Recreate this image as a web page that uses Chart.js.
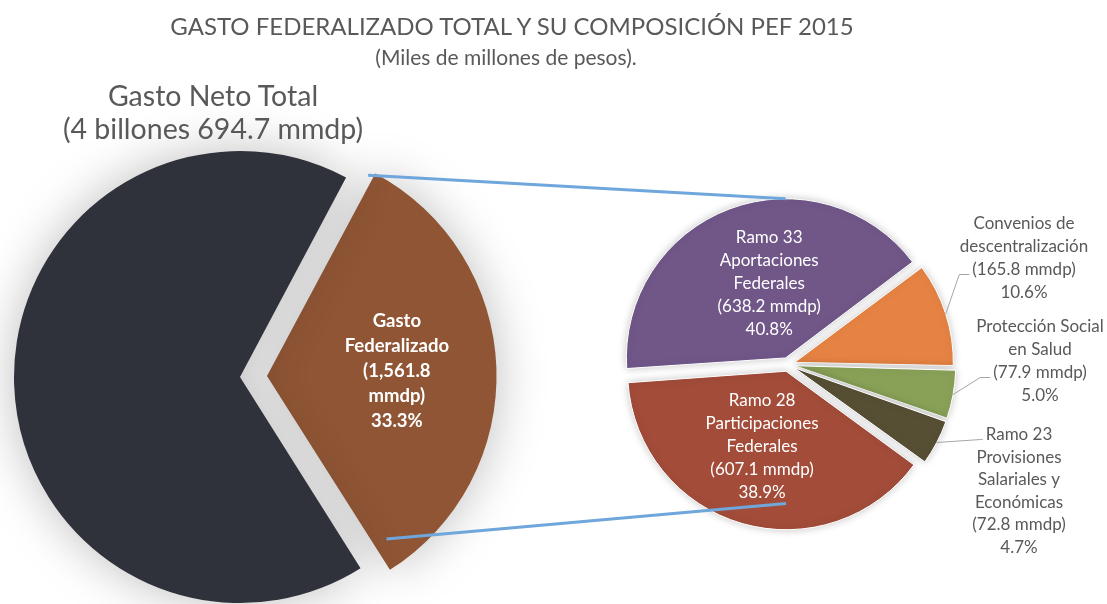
<!DOCTYPE html>
<html lang="es">
<head>
  <meta charset="UTF-8">
  <title>Gasto Federalizado PEF 2015</title>
  <script src="https://cdn.jsdelivr.net/npm/chart.js@4.4.1/dist/chart.umd.min.js"></script>
  <style>
    body { margin: 0; background: #fff; font-family: Lato, sans-serif; }
    #wrap { position: relative; width: 1107px; height: 604px; overflow: hidden; background: #fff; }
    #wrap canvas { position: absolute; left: 0; top: 0; }
    .txt { position: absolute; color: #595959; text-align: center; white-space: nowrap; }
    #title { left: 0; width: 1024px; top: 14px; font-size: 24px; line-height: 24px; }
    #subtitle { left: 0; width: 1012px; top: 46px; font-size: 21px; line-height: 21px; }
    #total { left: 0; width: 426px; top: 79px; font-size: 28.5px; line-height: 33px; }
  </style>
</head>
<body>
  <div id="wrap">
    <canvas id="totalChart" width="1107" height="604"></canvas>
    <canvas id="fedChart" width="1107" height="604"></canvas>
    <div class="txt" id="title">GASTO FEDERALIZADO TOTAL Y SU COMPOSICIÓN PEF 2015</div>
    <div class="txt" id="subtitle">(Miles de millones de pesos).</div>
    <div class="txt" id="total">Gasto Neto Total<br>(4 billones 694.7 mmdp)</div>
  </div>

  <script>
    // left pie: Gasto Neto Total split
    const totalLabels = ['Gasto Federalizado', 'Resto del Gasto Neto Total'];
    const totalValues = [1561.8, 3132.9];
    const totalPercent = ['33.3%', '66.7%'];

    // right pie: composition of Gasto Federalizado
    const fedLabels = [
      'Ramo 33 Aportaciones Federales',
      'Convenios de descentralización',
      'Protección Social en Salud',
      'Ramo 23 Provisiones Salariales y Económicas',
      'Ramo 28 Participaciones Federales'
    ];
    const fedValues = [638.2, 165.8, 77.9, 72.8, 607.1];
    const fedPercent = ['40.8%', '10.6%', '5.0%', '4.7%', '38.9%'];
    const fedNameLines = [
      ['Ramo 33', 'Aportaciones', 'Federales'],
      ['Convenios de', 'descentralización'],
      ['Protección Social', 'en Salud'],
      ['Ramo 23', 'Provisiones', 'Salariales y', 'Económicas'],
      ['Ramo 28', 'Participaciones', 'Federales']
    ];

    const fmt = v => v.toLocaleString('en-US', { minimumFractionDigits: 1, maximumFractionDigits: 1 });

    // Chart.js v4 moves an exploded arc by offset / 4 and grows its radius a bit
    function arcGeom(arc) {
      const t = (arc.options.offset || 0) / 4;
      const circ = arc.endAngle - arc.startAngle;
      const mid = (arc.startAngle + arc.endAngle) / 2;
      const r = arc.outerRadius + t * (1 - Math.sin(Math.min(Math.PI, circ)));
      return { cx: arc.x + Math.cos(mid) * t, cy: arc.y + Math.sin(mid) * t, r: r, mid: mid };
    }
    function arcPoint(arc, angle, frac) {
      const g = arcGeom(arc);
      return { x: g.cx + Math.cos(angle) * g.r * frac, y: g.cy + Math.sin(angle) * g.r * frac };
    }

    function shadow(color, blur) {
      return {
        id: 'shadow',
        beforeDatasetsDraw(chart) {
          const c = chart.ctx;
          c.save();
          c.shadowColor = color;
          c.shadowBlur = blur;
        },
        afterDatasetsDraw(chart) { chart.ctx.restore(); }
      };
    }

    function insideLabels(items) {
      return {
        id: 'insideLabels',
        afterDatasetsDraw(chart) {
          const ctx = chart.ctx;
          const arcs = chart.getDatasetMeta(0).data;
          ctx.save();
          ctx.textAlign = 'center';
          ctx.textBaseline = 'middle';
          items.forEach(it => {
            const arc = arcs[it.index];
            const g = arcGeom(arc);
            const p = arcPoint(arc, g.mid + it.turn * Math.PI / 180, it.frac);
            ctx.font = it.font;
            ctx.fillStyle = it.color;
            const top = p.y - (it.lines.length - 1) * it.lh / 2;
            it.lines.forEach((s, k) => ctx.fillText(s, p.x, top + k * it.lh));
          });
          ctx.restore();
        }
      };
    }

    function outsideLabels(items) {
      return {
        id: 'outsideLabels',
        afterDatasetsDraw(chart) {
          const ctx = chart.ctx;
          const arcs = chart.getDatasetMeta(0).data;
          ctx.save();
          ctx.textAlign = 'center';
          ctx.textBaseline = 'middle';
          ctx.font = '17px Lato';
          items.forEach(it => {
            const arc = arcs[it.index];
            const top = it.y - (it.lines.length - 1) * it.lh / 2;
            const lead = it.lines[it.lead];
            const left = it.x - ctx.measureText(lead).width / 2;
            const ly = top + it.lead * it.lh + 5;
            const start = arcPoint(arc, arcGeom(arc).mid, 1);
            ctx.strokeStyle = '#a6a6a6';
            ctx.lineWidth = 1;
            ctx.beginPath();
            ctx.moveTo(start.x, start.y);
            ctx.lineTo(left - it.elbow, ly);
            ctx.lineTo(left - 3, ly);
            ctx.stroke();
            ctx.fillStyle = '#595959';
            it.lines.forEach((s, k) => ctx.fillText(s, it.x, top + k * it.lh));
          });
          ctx.restore();
        }
      };
    }

    const totalChart = new Chart(document.getElementById('totalChart'), {
      type: 'pie',
      data: {
        labels: totalLabels,
        datasets: [{
          data: totalValues,
          backgroundColor: ['#8f5535', '#30323b'],
          borderWidth: 0,
          offset: [108, 0],
          radius: 226
        }]
      },
      options: {
        responsive: false,
        animation: false,
        events: [],
        rotation: 28,
        layout: { padding: { left: 0, right: 627, top: 177, bottom: 27 } },
        plugins: { legend: { display: false }, tooltip: { enabled: false } }
      },
      plugins: [
        shadow('rgba(0,0,0,0.26)', 50),
        insideLabels([{
          index: 0, turn: 0, frac: 0.566, lh: 25, font: 'bold 18.5px Lato', color: '#ffffff',
          lines: ['Gasto', 'Federalizado', '(' + fmt(totalValues[0]), 'mmdp)', totalPercent[0]]
        }])
      ]
    });

    // blue series lines joining the exploded slice to the second pie
    const seriesLines = {
      id: 'seriesLines',
      afterDraw(chart) {
        const ctx = chart.ctx;
        const src = totalChart.getDatasetMeta(0).data[0];
        const arcs = chart.getDatasetMeta(0).data;
        const a = arcPoint(src, src.startAngle - 0.01, 0.985);
        const b = arcPoint(arcs[0], -Math.PI / 2, 1.0);
        const c = arcPoint(src, src.startAngle + 2.02, 0.88);
        const d = arcPoint(arcs[4], Math.PI / 2, 0.835);
        ctx.save();
        ctx.strokeStyle = '#6fa6dc';
        ctx.lineWidth = 3;
        ctx.beginPath();
        ctx.moveTo(a.x - 3, a.y);
        ctx.lineTo(b.x, b.y);
        ctx.moveTo(c.x, c.y);
        ctx.lineTo(d.x, d.y);
        ctx.stroke();
        ctx.restore();
      }
    };

    const fedChart = new Chart(document.getElementById('fedChart'), {
      type: 'pie',
      data: {
        labels: fedLabels,
        datasets: [{
          data: fedValues,
          backgroundColor: ['#705788', '#e68344', '#89a157', '#574f34', '#a24c39'],
          borderColor: '#ffffff',
          borderWidth: 1,
          offset: 28,
          radius: 156
        }]
      },
      options: {
        responsive: false,
        animation: false,
        events: [],
        rotation: 266,
        layout: { padding: { left: 588, right: 119, top: 164, bottom: 39 } },
        plugins: { legend: { display: false }, tooltip: { enabled: false } }
      },
      plugins: [
        shadow('rgba(0,0,0,0.22)', 8),
        insideLabels([0, 4].map(i => ({
          index: i, turn: i === 0 ? 8 : 1.6, frac: i === 0 ? 0.477 : 0.5, lh: 23,
          font: '17px Lato', color: '#ffffff',
          lines: fedNameLines[i].concat(['(' + fmt(fedValues[i]) + ' mmdp)', fedPercent[i]])
        }))),
        outsideLabels([
          { index: 1, x: 1024, y: 258, lh: 23, lead: 2, elbow: 13 },
          { index: 2, x: 1040, y: 361, lh: 23, lead: 2, elbow: 13 },
          { index: 3, x: 1019, y: 491, lh: 22.6, lead: 0, elbow: 5 }
        ].map(o => Object.assign(o, {
          lines: fedNameLines[o.index].concat(['(' + fmt(fedValues[o.index]) + ' mmdp)', fedPercent[o.index]])
        }))),
        seriesLines
      ]
    });
  </script>
</body>
</html>
